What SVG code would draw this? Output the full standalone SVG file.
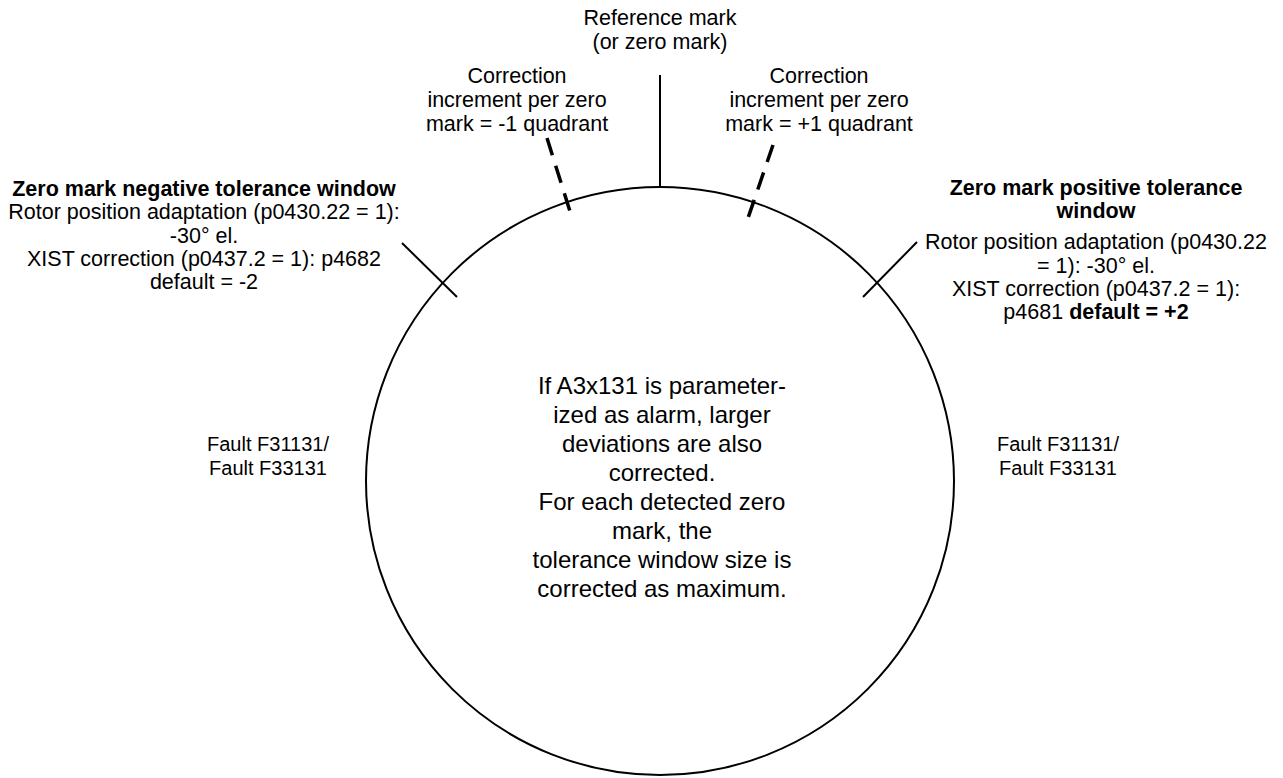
<svg xmlns="http://www.w3.org/2000/svg" width="1283" height="778" viewBox="0 0 1283 778">
  <style>
    text { font-family: "Liberation Sans", Arial, sans-serif; fill: #000; text-anchor: middle; }
    .t { font-size: 21.5px; }
    .b { font-weight: bold; }
    .c { font-size: 24px; }
    .f { font-size: 20px; }
    .ln { stroke: #000; stroke-width: 2; fill: none; }
    .dash { stroke: #000; stroke-width: 3.5; fill: none; stroke-dasharray: 18 11; }
  </style>
  <rect width="1283" height="778" fill="#fff"/>
  <g id="disc">
    <circle class="ln" cx="660" cy="481" r="294"/>
  </g>
  <g id="connectors">
    <line class="ln" x1="660" y1="75" x2="660" y2="187"/>
    <line class="dash" x1="547" y1="138" x2="573" y2="221"/>
    <line class="dash" x1="773" y1="145" x2="747" y2="221"/>
    <line class="ln" x1="402" y1="243" x2="457" y2="297"/>
    <line class="ln" x1="917" y1="242" x2="863" y2="297"/>
  </g>
  <g id="reference-mark">
    <text class="t" x="660" y="25">Reference mark</text>
    <text class="t" x="660" y="49">(or zero mark)</text>
  </g>
  <g id="correction-minus">
    <text class="t" x="517" y="83">Correction</text>
    <text class="t" x="517" y="107">increment per zero</text>
    <text class="t" x="517" y="131">mark = -1 quadrant</text>
  </g>
  <g id="correction-plus">
    <text class="t" x="819" y="83">Correction</text>
    <text class="t" x="819" y="107">increment per zero</text>
    <text class="t" x="819" y="131">mark = +1 quadrant</text>
  </g>
  <g id="negative-window">
    <text class="t b" x="204" y="196">Zero mark negative tolerance window</text>
    <text class="t" x="204" y="219">Rotor position adaptation (p0430.22 = 1):</text>
    <text class="t" x="204" y="243">-30° el.</text>
    <text class="t" x="204" y="266">XIST correction (p0437.2 = 1): p4682</text>
    <text class="t" x="204" y="289">default = -2</text>
  </g>
  <g id="positive-window">
    <text class="t b" x="1096" y="195">Zero mark positive tolerance</text>
    <text class="t b" x="1096" y="218">window</text>
    <text class="t" x="1096" y="249">Rotor position adaptation (p0430.22</text>
    <text class="t" x="1096" y="273">= 1): -30° el.</text>
    <text class="t" x="1096" y="296">XIST correction (p0437.2 = 1):</text>
    <text class="t" x="1096" y="319">p4681 <tspan class="b">default = +2</tspan></text>
  </g>
  <g id="fault-left">
    <text class="f" x="268" y="451">Fault F31131/</text>
    <text class="f" x="268" y="475">Fault F33131</text>
  </g>
  <g id="fault-right">
    <text class="f" x="1058" y="451">Fault F31131/</text>
    <text class="f" x="1058" y="475">Fault F33131</text>
  </g>
  <g id="center-note">
    <text class="c" x="662" y="394">If A3x131 is parameter-</text>
    <text class="c" x="662" y="423">ized as alarm, larger</text>
    <text class="c" x="662" y="452">deviations are also</text>
    <text class="c" x="662" y="481">corrected.</text>
    <text class="c" x="662" y="510">For each detected zero</text>
    <text class="c" x="662" y="539">mark, the</text>
    <text class="c" x="662" y="568">tolerance window size is</text>
    <text class="c" x="662" y="597">corrected as maximum.</text>
  </g>
</svg>
